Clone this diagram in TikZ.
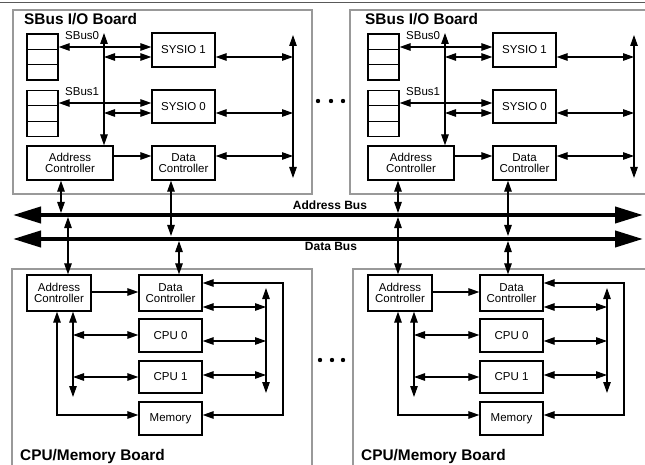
\documentclass[tikz,border=0pt]{standalone}
\usepackage{fontspec}
\setmainfont{Liberation Sans}
\usetikzlibrary{arrows.meta}
\tikzset{
 board/.style={draw=black!40, line width=1.3pt},
 blk/.style={draw, line width=1.3pt, inner sep=0pt, font=\fontsize{11.5}{10.5}\selectfont, align=center},
 cell/.style={draw, line width=1.3pt, minimum width=31pt, minimum height=15.33pt, inner sep=0pt},
 ar/.style={line width=1.2pt, -{Triangle[length=11pt,width=7.5pt]}},
 dar/.style={line width=1.2pt, {Triangle[length=11pt,width=7.5pt]}-{Triangle[length=11pt,width=7.5pt]}},
 bus/.style={line width=4pt, {Triangle[length=28pt,width=16pt]}-{Triangle[length=28pt,width=16pt]}},
 title/.style={font=\bfseries\fontsize{15.4}{18}\selectfont, anchor=base west, inner sep=0pt},
 lbl/.style={font=\fontsize{11.5}{14}\selectfont, anchor=base west, inner sep=0pt},
 buslbl/.style={font=\bfseries\fontsize{12}{14}\selectfont, anchor=base, inner sep=0pt},
}
\begin{document}
\begin{tikzpicture}[x=1pt,y=-1pt]
\clip (0,0) rectangle (645,465);
\fill[white] (0,0) rectangle (645,465);
\draw[black!65, line width=1.5pt] (0,2.5) -- (645,2.5);
% boards
\draw[board] (13,10) rectangle (312,194);
\draw[board] (350,10) rectangle (660,194);
\draw[board] (12,269) rectangle (312,480);
\draw[board] (353,269) rectangle (660,480);
% top boards
\foreach \p/\dx in {L/0,R/341}{
 \begin{scope}[shift={(\dx,0)}]
 \node[title] (t\p-title) at (24,24.3) {SBus I/O Board};
 \node[cell] (t\p-s0a) at (42.5,41.67) {};
 \node[cell] (t\p-s0b) at (42.5,57) {};
 \node[cell] (t\p-s0c) at (42.5,72.33) {};
 \node[cell] (t\p-s1a) at (42.5,97.83) {};
 \node[cell] (t\p-s1b) at (42.5,113.5) {};
 \node[cell] (t\p-s1c) at (42.5,129.17) {};
 \node[blk, minimum width=63pt, minimum height=34pt] (t\p-sys1) at (183.5,50) {SYSIO 1};
 \node[blk, minimum width=63pt, minimum height=33pt] (t\p-sys0) at (183.5,106.5) {SYSIO 0};
 \node[blk, minimum width=86pt, minimum height=34pt] (t\p-addr) at (70,163) {Address\\Controller};
 \node[blk, minimum width=63pt, minimum height=34pt] (t\p-data) at (183.5,163) {Data\\Controller};
 \node[lbl] (t\p-sb0) at (65,40) {SBus0};
 \node[lbl] (t\p-sb1) at (65,96) {SBus1};
 \coordinate (t\p-vt) at (104,33);
 \coordinate (t\p-rt) at (293,35);
 \coordinate (t\p-rb) at (293,178);
 \draw[dar] (t\p-vt) -- (t\p-vt |- t\p-addr.north);
 \draw[dar] (t\p-rt) -- (t\p-rb);
 \draw[dar] (t\p-s0a.east |- 0,47) -- (t\p-sys1.west |- 0,47);
 \draw[dar] (t\p-s1a.east |- 0,103) -- (t\p-sys0.west |- 0,103);
 \draw[dar] (t\p-vt |- 0,57) -- (t\p-sys1.west |- 0,57);
 \draw[dar] (t\p-vt |- 0,113) -- (t\p-sys0.west |- 0,113);
 \draw[dar] (t\p-sys1.east |- 0,57) -- (t\p-rt |- 0,57);
 \draw[dar] (t\p-sys0.east |- 0,113) -- (t\p-rt |- 0,113);
 \draw[dar] (t\p-data.east |- 0,156) -- (t\p-rt |- 0,156);
 \draw[ar] (t\p-addr.east |- 0,156) -- (t\p-data.west |- 0,156);
 \end{scope}
}
% lower boards
\foreach \p/\dx in {L/0,R/341}{
 \begin{scope}[shift={(\dx,0)}]
 \node[title] (b\p-title) at (20,460) {CPU/Memory Board};
 \node[blk, minimum width=64pt, minimum height=36pt] (b\p-addr) at (59,293) {Address\\Controller};
 \node[blk, minimum width=63pt, minimum height=36pt] (b\p-data) at (170.5,293) {Data\\Controller};
 \node[blk, minimum width=63pt, minimum height=33pt] (b\p-cpu0) at (170.5,335.5) {CPU 0};
 \node[blk, minimum width=63pt, minimum height=32pt] (b\p-cpu1) at (170.5,377) {CPU 1};
 \node[blk, minimum width=63pt, minimum height=33pt] (b\p-mem) at (170.5,418.5) {Memory};
 \coordinate (b\p-vt) at (266,288);
 \coordinate (b\p-vb) at (266,393);
 \coordinate (b\p-lx) at (283,350);
 \coordinate (b\p-lb) at (73,397);
 \coordinate (b\p-mx) at (57,350);
 \draw[ar] (b\p-addr.east |- 0,292) -- (b\p-data.west |- 0,292);
 \draw[dar] (b\p-data.east |- 0,283) -| (b\p-lx) |- (b\p-mem.east |- 0,415);
 \draw[dar] (b\p-vt) -- (b\p-vb);
 \draw[dar] (b\p-data.east |- 0,307) -- (b\p-vt |- 0,307);
 \draw[dar] (b\p-cpu0.east |- 0,341) -- (b\p-vt |- 0,341);
 \draw[dar] (b\p-cpu1.east |- 0,375) -- (b\p-vt |- 0,375);
 \draw[dar] (b\p-lb |- b\p-addr.south) -- (b\p-lb);
 \draw[dar] (b\p-lb |- 0,335) -- (b\p-cpu0.west |- 0,335);
 \draw[dar] (b\p-lb |- 0,377) -- (b\p-cpu1.west |- 0,377);
 \draw[dar] (b\p-mx |- b\p-addr.south) |- (b\p-mem.west |- 0,415);
 \end{scope}
}
% buses
\coordinate (abL) at (13,215);
\coordinate (abR) at (643,215);
\coordinate (dbL) at (13,239);
\coordinate (dbR) at (643,239);
\draw[bus] (abL) -- (abR);
\draw[bus] (dbL) -- (dbR);
\node[buslbl] (ablbl) at (330,210) {Address Bus};
\node[buslbl] (dblbl) at (331,251) {Data Bus};
% bus connections
\draw[dar, shorten >=2pt] (61,0 |- tL-addr.south) -- (61,0 |- abL);
\draw[dar, shorten >=3pt] (171,0 |- tL-data.south) -- (171,0 |- dbL);
\draw[dar, shorten <=2pt] (68,0 |- abL) -- (68,0 |- bL-addr.north);
\draw[dar, shorten <=2pt] (179,0 |- dbL) -- (179,0 |- bL-data.north);
\draw[dar, shorten >=2pt] (398,0 |- tR-addr.south) -- (398,0 |- abL);
\draw[dar, shorten >=3pt] (508,0 |- tR-data.south) -- (508,0 |- dbL);
\draw[dar, shorten <=2pt] (398,0 |- abL) -- (398,0 |- bR-addr.north);
\draw[dar, shorten <=2pt] (508,0 |- dbL) -- (508,0 |- bR-data.north);
% ellipsis dots
\foreach \x in {318,331,343} \fill (\x,101) circle[radius=2.2pt];
\foreach \x in {320,332,343} \fill (\x,360) circle[radius=2.2pt];
\end{tikzpicture}
\end{document}
